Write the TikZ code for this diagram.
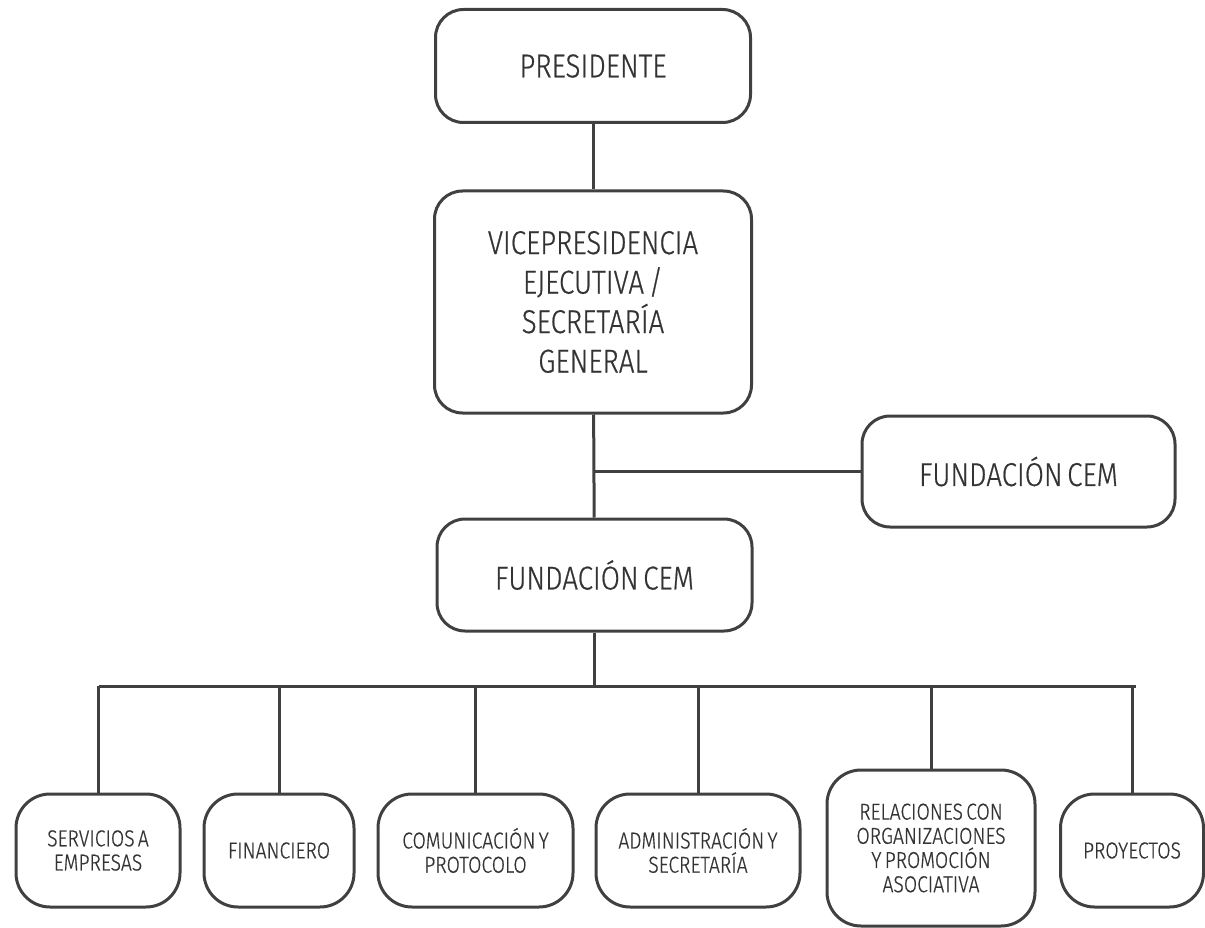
\documentclass[tikz,border=0pt]{standalone}
\usepackage{fontspec}
\setmainfont{Fira Sans}[UprightFont=* Light, FakeStretch=0.84, FakeBold=0.6, WordSpace=0.6]
\usetikzlibrary{positioning}
\definecolor{linegray}{HTML}{404040}
\definecolor{textgray}{HTML}{333333}
\tikzset{font=\fontsize{33}{39.5}\selectfont}
\tikzset{orgbox/.style={draw=linegray, line width=3pt, rounded corners=28pt,
    align=center, text=textgray, inner sep=0pt}}
\tikzset{unitbox/.style={orgbox, rounded corners=34pt,
    font=\fontsize{23}{24.2}\selectfont}}
\tikzset{link/.style={draw=linegray, line width=3pt}}

\begin{document}
\begin{tikzpicture}[x=1pt,y=-1pt]
\useasboundingbox (0,0) rectangle (1205,928);
\node[orgbox, minimum width=315pt, minimum height=113pt] (pres) at (593,66) {PRESIDENTE};
\node[orgbox, minimum width=317pt, minimum height=222pt] (vice) at (593,302)
  {VICEPRESIDENCIA\\EJECUTIVA /\\SECRETARÍA\\GENERAL};
\node[orgbox, minimum width=313pt, minimum height=111pt] (fundr) at (1018.5,471.5) {FUNDACIÓN CEM};
\node[orgbox, minimum width=315pt, minimum height=112pt] (fund) at (594.5,575) {FUNDACIÓN CEM};

\node[unitbox, minimum width=164pt, minimum height=113pt] (serv) at (98,850.5) {SERVICIOS A\\EMPRESAS};
\node[unitbox, minimum width=150pt, minimum height=113pt] (fin) at (279,850.5) {FINANCIERO};
\node[unitbox, minimum width=195pt, minimum height=113pt] (com) at (475.5,850.5) {COMUNICACIÓN Y\\PROTOCOLO};
\node[unitbox, minimum width=204pt, minimum height=113pt] (adm) at (698,850.5) {ADMINISTRACIÓN Y\\SECRETARÍA};
\node[unitbox, minimum width=208pt, minimum height=156pt] (rel) at (931,848)
  {RELACIONES CON\\ORGANIZACIONES\\Y PROMOCIÓN\\ASOCIATIVA};
\node[unitbox, minimum width=143pt, minimum height=113pt] (proy) at (1132,850.5) {PROYECTOS};

\coordinate (busL) at (99,686);
\coordinate (busR) at (1136,686);

\draw[link] (pres) -- (vice);
\draw[link] (vice) -- (fund);
\draw[link] (vice.south |- fundr.west) -- (fundr.west);
\draw[link] (fund.south) -- (fund.south |- busL);
\draw[link] (busL) -- (busR);
\foreach \u in {serv,fin,com,adm,rel,proy}
  \draw[link] (\u.north) -- (\u.north |- busL);
\end{tikzpicture}
\end{document}
